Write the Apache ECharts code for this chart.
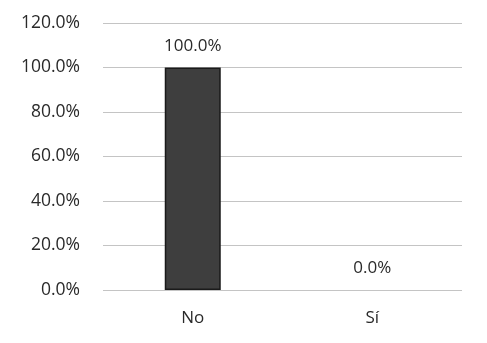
<!DOCTYPE html>
<html><head><meta charset="utf-8">
<script src="https://cdn.jsdelivr.net/npm/echarts@6/dist/echarts.min.js"></script>
<style>html,body{margin:0;padding:0;background:#fff}#c{width:487px;height:343px}</style>
</head><body><div id="c"></div>
<script>
const categories = ['No', 'Sí'];
const values = [100.0, 0.0];
const yTicks = [0, 20, 40, 60, 80, 100, 120];

const chart = echarts.init(document.getElementById('c'), null, {renderer: 'canvas'});
const font = 'Open Sans';
chart.setOption({
  animation: false,
  backgroundColor: '#fff',
  grid: {left: 103, right: 25, top: 23, bottom: 53},
  xAxis: {
    type: 'category', data: categories,
    axisLine: {show: false}, axisTick: {show: false},
    axisLabel: {color: '#2a2a2a', fontFamily: font, fontSize: 17, margin: 20}
  },
  yAxis: {
    type: 'value', min: yTicks[0], max: yTicks[yTicks.length - 1], interval: 20,
    axisLine: {show: false}, axisTick: {show: false},
    axisLabel: {color: '#2a2a2a', fontFamily: font, fontSize: 17.5, margin: 23,
      formatter: v => v.toFixed(1) + '%'},
    splitLine: {lineStyle: {color: '#c4c4c4', width: 1}}
  },
  series: [{
    type: 'bar', barWidth: 56,
    data: values.map(v => v === 0 ? {value: v, itemStyle: {borderWidth: 0}} : v),
    itemStyle: {color: '#3e3e3e', borderColor: '#1a1a1a', borderWidth: 1.5},
    label: {show: true, position: 'top', distance: 13, color: '#2a2a2a',
      fontFamily: font, fontSize: 17, formatter: p => p.value.toFixed(1) + '%'}
  }]
});
</script></body></html>
